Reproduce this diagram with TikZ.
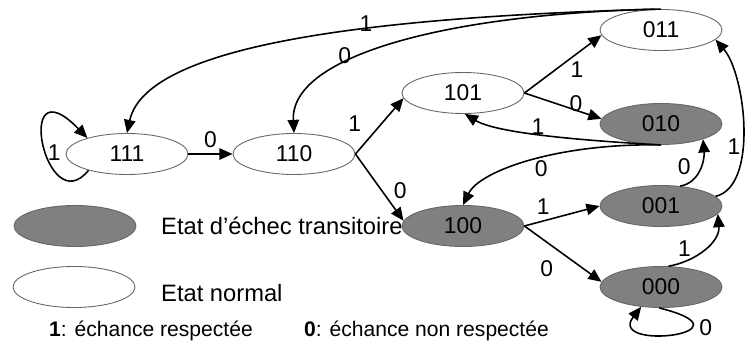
\documentclass[tikz,border=0pt]{standalone}
\usepackage{fontspec}
\setmainfont{Liberation Sans}
\usepackage{tikz}
\usetikzlibrary{arrows.meta}
\usetikzlibrary{shapes}

\definecolor{failgray}{RGB}{128,128,128}

\begin{document}
\begin{tikzpicture}[font=\fontsize{13}{15}\selectfont,
	state/.style={ellipse, draw=black!60, line width=0.5pt, minimum width=2.44cm, minimum height=0.82cm, inner sep=0pt},
	fail/.style={state, fill=failgray},
	trans/.style={-{Triangle[length=7.5pt,width=6.5pt]}, line width=0.9pt}]
	\useasboundingbox (0,0) rectangle (14.94,6.9);

	\node[state] (s111) at (2.54,3.82) {111};
	\node[state] (s110) at (5.88,3.82) {110};
	\node[state] (s101) at (9.26,5.04) {101};
	\node[fail] (s100) at (9.26,2.38) {100};
	\node[state] (s011) at (13.22,6.30) {011};
	\node[fail] (s010) at (13.22,4.42) {010};
	\node[fail] (s001) at (13.22,2.78) {001};
	\node[fail] (s000) at (13.22,1.16) {000};

	% legende
	\node[fail] (legfail) at (1.50,2.38) {};
	\node[state] (legnorm) at (1.48,1.16) {};
	\node[anchor=base west, font=\fontsize{13.5}{16}\selectfont] (txtfail) at (3.10,2.20) {Etat d’échec transitoire};
	\node[anchor=base west, font=\fontsize{13.5}{16}\selectfont] (txtnorm) at (3.10,0.86) {Etat normal};
	\node[anchor=base west, font=\fontsize{12}{14}\selectfont] (key1) at (0.86,0.16) {\textbf{1}: échance respectée};
	\node[anchor=base west, font=\fontsize{12}{14}\selectfont] (key0) at (5.96,0.16) {\textbf{0}: échance non respectée};

	% transitions
	\draw[trans] (s111) -- (s110) node[pos=.5, above] {0};
	\draw[trans] (s111.203) .. controls +(-0.86,-1.06) and +(-1.5,1.54) .. (s111.158) node[pos=.45, right, inner sep=1pt] {1};
	\draw[trans] (s110.east) -- (s101.185) node[pos=.55, left=8pt] {1};
	\draw[trans] (s110.east) -- (s100.175) node[pos=.55, right=3pt] {0};
	\draw[trans] (s101.east) -- (s011.185) node[pos=.4, right=5pt] {1};
	\draw[trans] (s101.east) -- (s010.175) node[pos=.67, yshift=4pt] {0};
	\draw[trans] (s100.east) -- (s001.west) node[pos=.25, above] {1};
	\draw[trans] (s100.east) -- (s000.175) node[pos=.45, xshift=-7pt, yshift=-10pt] {0};

	\draw[trans] (s011.north) .. controls +(-5.22,-0.14) and +(0.4,1.86) .. (s111.north) node[pos=.4, yshift=3pt] {1};
	\draw[trans] (s011.110) .. controls +(-4.08,-0.1) and +(-0.08,1.56) .. (s110.north) node[pos=.65, yshift=5pt] {0};
	\draw[trans] (s010.south) .. controls +(-1.42,0.08) and +(0.66,-0.4) .. (s101.-85) node[pos=.55, yshift=4pt] {1};
	\draw[trans] (s010.south) .. controls +(-2.02,0.04) and +(0.34,0.7) .. (s100.north) node[pos=.45, yshift=-6pt] {0};
	\draw[trans] (s001.46) to[out=10,in=-85] node[pos=.55, left=2pt] {0} (s010.-20);
	\draw[trans] (s001.10) .. controls +(0.86,0.2) and +(0.6,-0.7) .. (s011.-10) node[pos=.4, left, inner sep=1pt] {1};
	\draw[trans] (s000.70) to[out=10,in=-85] node[pos=.5, left=4pt] {1} (s001.-8);
	\draw[trans] (s000.-95) .. controls +(2.0,-0.5) and +(-0.7,-0.9) .. (s000.-135) node[pos=.3, right] {0};
\end{tikzpicture}
\end{document}
